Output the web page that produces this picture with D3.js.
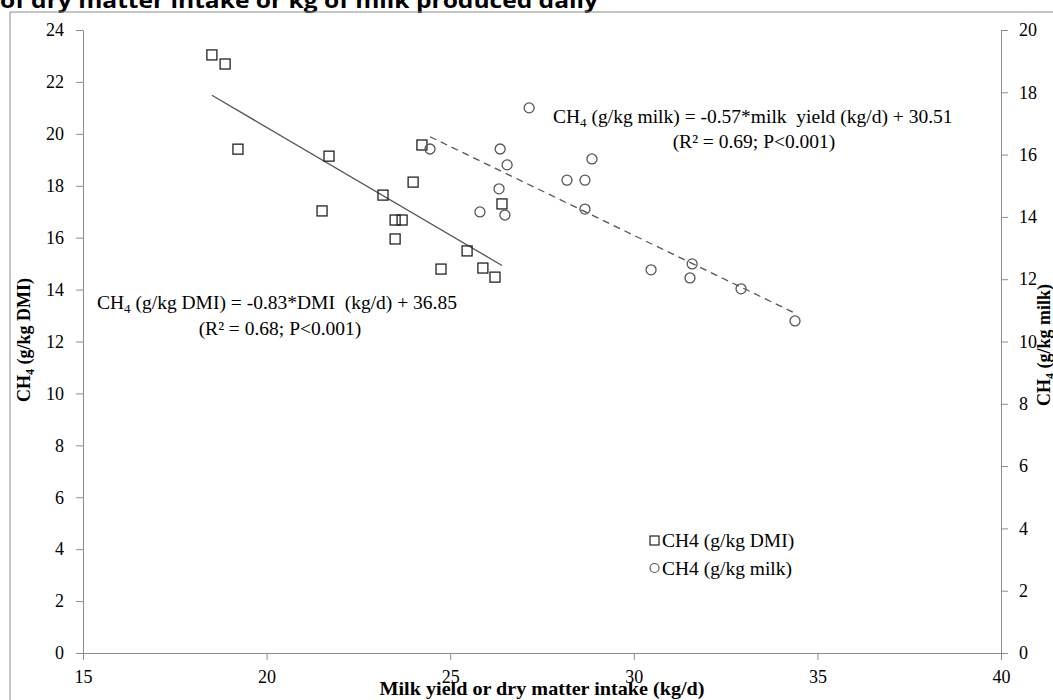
<!DOCTYPE html>
<html><head><meta charset="utf-8">
<script src="https://cdn.jsdelivr.net/npm/d3@7"></script>
<style>body{margin:0;background:#fff;overflow:hidden}</style>
</head><body>
<svg id="c" width="1053" height="700"></svg>
<script>
// DMI series (left axis): x = DMI (kg/d), y = CH4 g/kg DMI
const dmiX = [18.51,18.87,19.22,21.70,21.51,23.17,24.23,23.99,23.50,23.69,23.50,24.75,25.46,25.89,26.22,26.41];
const dmiY = [23.04,22.69,19.41,19.14,17.03,17.64,19.57,18.14,16.68,16.68,15.95,14.79,15.49,14.83,14.48,17.30];
// Milk series (right axis): x = milk yield (kg/d), y = CH4 g/kg milk
const milkX = [27.15,24.45,26.36,26.55,28.86,28.18,28.67,26.33,25.81,26.49,28.67,30.47,31.59,31.53,32.92,34.39];
const milkY = [17.50,16.18,16.18,15.67,15.86,15.18,15.18,14.90,14.16,14.06,14.25,12.30,12.49,12.04,11.69,10.66];
// regression coefficients
const dmiFit = [-0.83, 36.85];
const milkFit = [-0.57, 30.51];
const xTicks = [15,20,25,30,35,40];
const yLeftTicks = [0,2,4,6,8,10,12,14,16,18,20,22,24];
const yRightTicks = [0,2,4,6,8,10,12,14,16,18,20];
const legendLabels = ["CH4 (g/kg DMI)","CH4 (g/kg milk)"];

const svg = d3.select("#c");
const serif = "'Liberation Serif','Times New Roman',serif";
const axisCol = "#8c8c8c";
const fs = 19.5;

const x = d3.scaleLinear().domain([15,40]).range([83,1001]);
const yL = d3.scaleLinear().domain([0,24]).range([653,30]);
const yR = d3.scaleLinear().domain([0,20]).range([653,30]);

// title fragment (clipped at top)
svg.append("text").attr("x",0).attr("y",8)
  .attr("font-family","'Open Sans','Liberation Sans',sans-serif").attr("font-weight","bold")
  .attr("font-size",22).attr("textLength",598).attr("lengthAdjust","spacingAndGlyphs")
  .text("of dry matter intake or kg of milk produced daily");

// frame
svg.append("path").attr("d","M10,712V12H1060").attr("fill","none").attr("stroke",axisCol).attr("stroke-width",1);

// axes
function styleAxis(g){
  g.select(".domain").attr("stroke",axisCol);
  g.selectAll(".tick line").attr("stroke",axisCol);
  g.selectAll("text").attr("font-family",serif).attr("font-size",18).attr("fill","#000");
}
const gx = svg.append("g").attr("transform","translate(0,653)")
  .call(d3.axisBottom(x).tickValues(xTicks).tickSize(7).tickSizeOuter(0).tickPadding(10));
styleAxis(gx);
const gl = svg.append("g").attr("transform","translate(83,0)")
  .call(d3.axisLeft(yL).tickValues(yLeftTicks).tickSize(7).tickSizeOuter(0).tickPadding(12));
styleAxis(gl);
const gr = svg.append("g").attr("transform","translate(1001,0)")
  .call(d3.axisRight(yR).tickValues(yRightTicks).tickSize(7).tickSizeOuter(0).tickPadding(11));
styleAxis(gr);

// axis titles
const lt = svg.append("text").attr("transform","translate(30,340) rotate(-90)")
  .attr("text-anchor","middle").attr("font-family",serif).attr("font-weight","bold").attr("font-size",18);
lt.append("tspan").text("CH");
lt.append("tspan").attr("font-size",12).attr("dy",4).text("4");
lt.append("tspan").attr("dy",-4).text(" (g/kg DMI)");
const rt = svg.append("text").attr("transform","translate(1050,345) rotate(-90)")
  .attr("text-anchor","middle").attr("font-family",serif).attr("font-weight","bold").attr("font-size",18);
rt.append("tspan").text("CH");
rt.append("tspan").attr("font-size",12).attr("dy",4).text("4");
rt.append("tspan").attr("dy",-4).text(" (g/kg milk)");
svg.append("text").attr("x",542).attr("y",695).attr("text-anchor","middle")
  .attr("font-family",serif).attr("font-weight","bold").attr("font-size",19)
  .attr("textLength",325).attr("lengthAdjust","spacingAndGlyphs")
  .text("Milk yield or dry matter intake (kg/d)");

// regression lines
const dx = d3.extent(dmiX), mx = d3.extent(milkX);
svg.append("line").attr("x1",x(dx[0])).attr("y1",yL(dmiFit[0]*dx[0]+dmiFit[1]))
  .attr("x2",x(dx[1])).attr("y2",yL(dmiFit[0]*dx[1]+dmiFit[1]))
  .attr("stroke","#555").attr("stroke-width",1.3);
svg.append("line").attr("x1",x(mx[0])).attr("y1",yR(milkFit[0]*mx[0]+milkFit[1]))
  .attr("x2",x(mx[1])).attr("y2",yR(milkFit[0]*mx[1]+milkFit[1]))
  .attr("stroke","#555").attr("stroke-width",1.3).attr("stroke-dasharray","7,5");

// points
const sq = 10;
svg.append("g").selectAll("rect").data(dmiX.map((v,i)=>[v,dmiY[i]])).join("rect")
  .attr("x",d=>x(d[0])-sq/2).attr("y",d=>yL(d[1])-sq/2).attr("width",sq).attr("height",sq)
  .attr("fill","none").attr("stroke","#222").attr("stroke-width",1.3);
svg.append("g").selectAll("circle").data(milkX.map((v,i)=>[v,milkY[i]])).join("circle")
  .attr("cx",d=>x(d[0])).attr("cy",d=>yR(d[1])).attr("r",5)
  .attr("fill","none").attr("stroke","#555").attr("stroke-width",1.3);

// equations
function eq(xp,yp,pre,post){
  const t = svg.append("text").attr("x",xp).attr("y",yp)
    .attr("font-family",serif).attr("font-size",fs).attr("fill","#000")
    .attr("xml:space","preserve").style("white-space","pre");
  t.append("tspan").text(pre);
  t.append("tspan").attr("font-size",13).attr("dy",4).text("4");
  t.append("tspan").attr("dy",-4).text(post);
}
eq(553,123,"CH"," (g/kg milk) = -0.57*milk  yield (kg/d) + 30.51");
svg.append("text").attr("x",754).attr("y",148).attr("text-anchor","middle")
  .attr("font-family",serif).attr("font-size",fs).text("(R² = 0.69; P<0.001)");
eq(97,309,"CH"," (g/kg DMI) = -0.83*DMI  (kg/d) + 36.85");
svg.append("text").attr("x",280).attr("y",335).attr("text-anchor","middle")
  .attr("font-family",serif).attr("font-size",fs).text("(R² = 0.68; P<0.001)");

// legend
const lg = svg.append("g");
lg.append("rect").attr("x",650).attr("y",536).attr("width",9).attr("height",9)
  .attr("fill","none").attr("stroke","#222").attr("stroke-width",1.2);
lg.append("circle").attr("cx",654.5).attr("cy",568).attr("r",4.5)
  .attr("fill","none").attr("stroke","#555").attr("stroke-width",1.2);
lg.selectAll("text").data(legendLabels).join("text")
  .attr("x",662).attr("y",(d,i)=>547+i*28)
  .attr("font-family",serif).attr("font-size",fs).text(d=>d);
</script>
</body></html>
